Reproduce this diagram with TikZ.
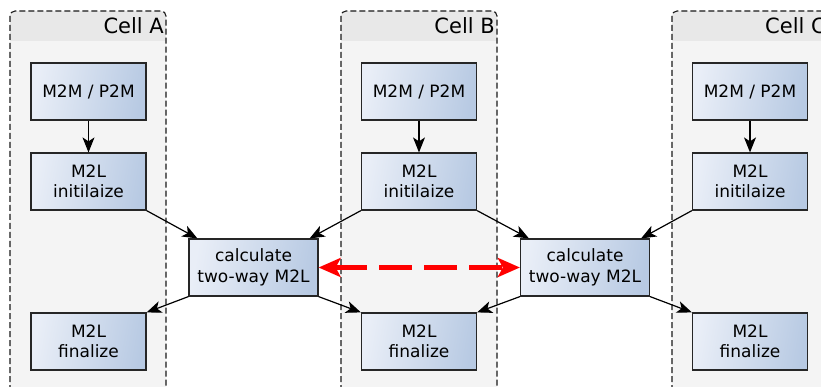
\documentclass[tikz,border=0pt]{standalone}
\usepackage{fontspec}
\setmainfont{DejaVu Sans}
\usetikzlibrary{arrows.meta,calc}
\definecolor{hdrgray}{HTML}{E8E8E8}
\definecolor{cellgray}{HTML}{F4F4F4}
\definecolor{boxleft}{HTML}{E9EEF7}
\definecolor{boxright}{HTML}{B8CAE3}
\tikzset{
  taskbox/.style={draw=black!85, line width=1.2pt, left color=boxleft, right color=boxright,
    shading angle=80, minimum width=115pt, minimum height=57pt, inner sep=0pt,
    align=center, font=\fontsize{17}{20.5}\selectfont},
  calcbox/.style={taskbox, minimum width=129pt},
  celltitle/.style={anchor=base east, inner sep=0pt, font=\fontsize{21}{25}\selectfont},
  cellframe/.style={draw=black!90, line width=1.1pt, dash pattern=on 6pt off 3pt, rounded corners=5pt},
  flow/.style={line width=1.2pt, -{Stealth[length=15pt,width=12pt,inset=4pt]}},
  exchange/.style={draw=red, line width=5.5pt, dash pattern=on 33pt off 12pt,
    {Stealth[length=22pt,width=19pt,inset=5pt]}-{Stealth[length=22pt,width=19pt,inset=5pt]}}
}
\begin{document}
\begin{tikzpicture}[x=1pt,y=-1pt]
\useasboundingbox (0,0) rectangle (821,387);
\clip (0,0) rectangle (821,387);
% cell panels with title band
\foreach \px/\cname in {10/A,341/B,672/C}{
  \fill[hdrgray, rounded corners=5pt] (\px,400) |- ({\px+156},11) -- ({\px+156},400) -- cycle;
  \fill[cellgray] (\px,41) rectangle ({\px+156},400);
  \draw[cellframe] (\px,400) |- ({\px+156},11) -- ({\px+156},400);
  \node[celltitle] (title\cname) at ({\px+154},34) {Cell \cname};
}
% per-cell tasks
\foreach \cx/\cname in {88.5/A,419/B,750/C}{
  \node[taskbox] (mp\cname) at (\cx,91.5) {M2M / P2M};
  \node[taskbox] (init\cname) at (\cx,181.5) {M2L\\initilaize};
  \node[taskbox] (fin\cname) at (\cx,341.5) {M2L\\finalize};
  \draw[flow] (mp\cname) -- (init\cname);
}
% shared two-way M2L between neighbouring cells
\node[calcbox] (calcAB) at (253.5,267.5) {calculate\\two-way M2L};
\node[calcbox] (calcBC) at (585,267.5) {calculate\\two-way M2L};
\draw[flow] (initA.south east) -- ([xshift=9pt]calcAB.north west);
\draw[flow] (initB.south west) -- ([xshift=-9pt]calcAB.north east);
\draw[flow] (initB.south east) -- ([xshift=9pt]calcBC.north west);
\draw[flow] (initC.south west) -- ([xshift=-9pt]calcBC.north east);
\draw[flow] (calcAB.south west) -- (finA.north east);
\draw[flow] (calcAB.south east) -- (finB.north west);
\draw[flow] (calcBC.south west) -- (finB.north east);
\draw[flow] (calcBC.south east) -- (finC.north west);
\draw[exchange] (calcAB.east) -- (calcBC.west);
\end{tikzpicture}
\end{document}
